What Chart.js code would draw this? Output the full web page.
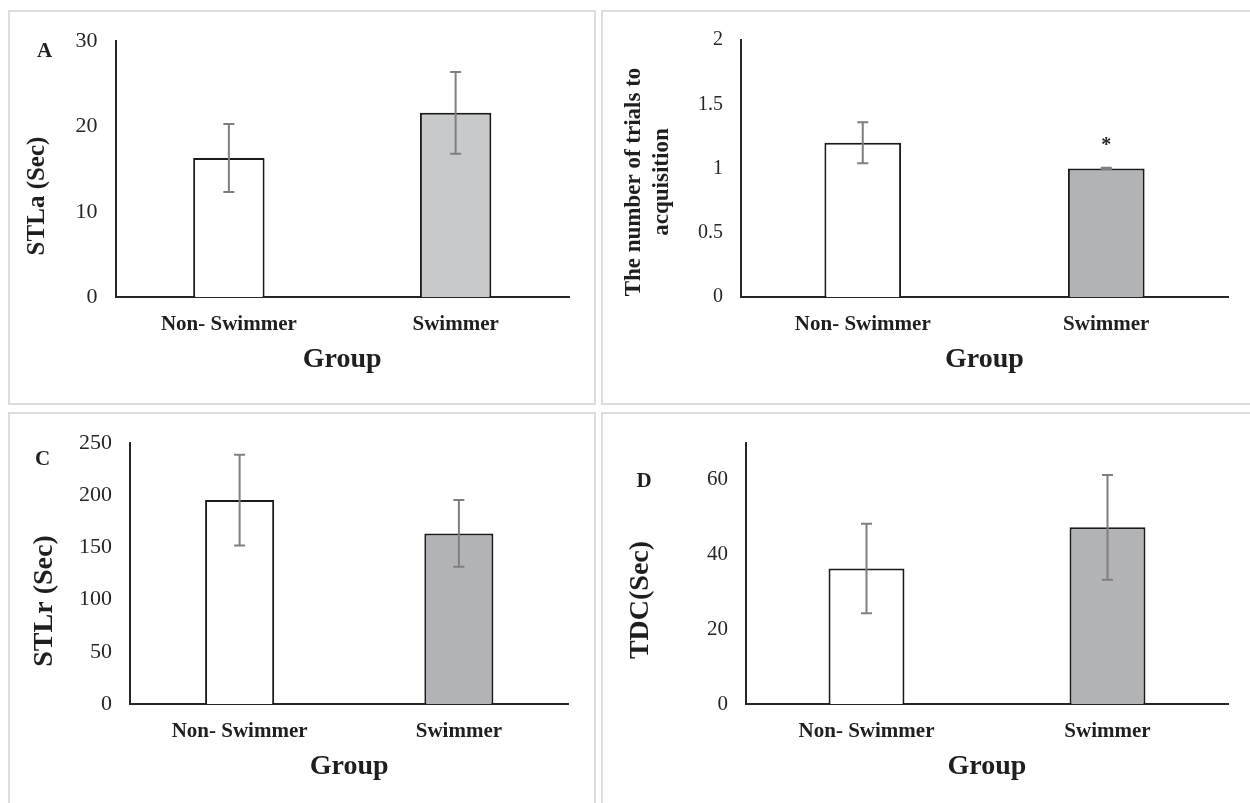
<!DOCTYPE html>
<html>
<head>
<meta charset="utf-8">
<script src="https://cdn.jsdelivr.net/npm/chart.js@4.4.1/dist/chart.umd.min.js"></script>
<style>
  body { margin: 0; background: #fff; width: 1250px; height: 803px; overflow: hidden; position: relative; }
  .panel { position: absolute; box-sizing: border-box; border: 2px solid #dcdcdc; }
  canvas { position: absolute; }
</style>
</head>
<body>
<div class="panel" style="left:8px;top:10px;width:588px;height:395px"></div>
<div class="panel" style="left:601px;top:10px;width:670px;height:395px"></div>
<div class="panel" style="left:8px;top:412px;width:588px;height:410px"></div>
<div class="panel" style="left:601px;top:412px;width:670px;height:410px"></div>
<canvas id="chartA"></canvas>
<canvas id="chartB"></canvas>
<canvas id="chartC"></canvas>
<canvas id="chartD"></canvas>
<script>
const groups = ["Non- Swimmer", "Swimmer"];

// A: STLa (Sec)
const stlaMeans = [16.3, 21.6];
const stlaErrors = [4.0, 4.8];

// B: trials to acquisition
const trialsMeans = [1.2, 1.0];
const trialsErrors = [0.16, 0.006];
const trialsMarks = ["", "*"];

// C: STLr (Sec)
const stlrMeans = [195.5, 163.5];
const stlrErrors = [43.5, 32];

// D: TDC (Sec)
const tdcMeans = [36.3, 47.3];
const tdcErrors = [12, 14];

const serif = '"Liberation Serif", "Times New Roman", serif';
Chart.defaults.font.family = serif;
Chart.defaults.color = "#1f1f1f";

// error bars, rotated y titles, panel letters and significance marks
const extras = {
  id: "extras",
  afterDatasetsDraw(chart, args, opts) {
    const ctx = chart.ctx;
    const xs = chart.scales.x;
    const ys = chart.scales.y;
    const ds = chart.data.datasets[0];
    ctx.save();
    ctx.strokeStyle = "#7f7f7f";
    ctx.lineWidth = 2;
    ds.data.forEach((m, i) => {
      const e = ds.errors[i];
      const cx = xs.getPixelForValue(i);
      const top = ys.getPixelForValue(m + e);
      const bot = ys.getPixelForValue(m - e);
      ctx.beginPath();
      ctx.moveTo(cx, top);
      ctx.lineTo(cx, bot);
      ctx.moveTo(cx - 5.5, top);
      ctx.lineTo(cx + 5.5, top);
      ctx.moveTo(cx - 5.5, bot);
      ctx.lineTo(cx + 5.5, bot);
      ctx.stroke();
    });

    ctx.fillStyle = "#1f1f1f";
    ctx.textAlign = "center";
    ctx.textBaseline = "middle";

    if (ds.marks) {
      ctx.font = "bold 20px " + serif;
      ds.data.forEach((m, i) => {
        if (!ds.marks[i]) return;
        const cx = xs.getPixelForValue(i);
        ctx.fillText(ds.marks[i], cx, ys.getPixelForValue(m + ds.errors[i]) - 22);
      });
    }

    if (opts.letter) {
      ctx.font = "bold 21px " + serif;
      ctx.fillText(opts.letter, opts.letterPos[0], opts.letterPos[1]);
    }

    const lines = [].concat(opts.yTitle);
    ctx.font = "bold " + opts.yTitleSize + "px " + serif;
    ctx.translate(opts.yTitlePos[0], opts.yTitlePos[1]);
    ctx.rotate(-Math.PI / 2);
    const lh = opts.yTitleSize * 1.18;
    lines.forEach((t, k) => {
      ctx.fillText(t, 0, (k - (lines.length - 1) / 2) * lh);
    });
    ctx.restore();
  }
};

function makePanel(id, p) {
  const [cl, ct, cw, ch] = p.canvas;
  const el = document.getElementById(id);
  el.width = cw;
  el.height = ch;
  el.style.left = cl + "px";
  el.style.top = ct + "px";
  const [al, at, ar, ab] = p.area;
  const xHeight = 80;

  new Chart(el, {
    type: "bar",
    data: {
      labels: groups,
      datasets: [
        {
          data: p.means,
          errors: p.errors,
          marks: p.marks,
          backgroundColor: ["#ffffff", p.fill],
          borderColor: "#1a1a1a",
          borderWidth: 2,
          barPercentage: 0.315,
          categoryPercentage: 1,
        },
      ],
    },
    options: {
      responsive: false,
      animation: false,
      events: [],
      layout: {
        padding: { left: 0, top: at - ct, right: cl + cw - ar, bottom: ct + ch - ab - xHeight },
      },
      plugins: {
        legend: { display: false },
        tooltip: { enabled: false },
        extras: {
          yTitle: p.yTitle,
          yTitleSize: p.yTitleSize,
          yTitlePos: [p.yTitlePos[0] - cl, p.yTitlePos[1] - ct],
          letter: p.letter,
          letterPos: p.letterPos ? [p.letterPos[0] - cl, p.letterPos[1] - ct] : null,
        },
      },
      scales: {
        x: {
          grid: { display: false, drawTicks: false },
          border: { display: true, color: "#262626", width: 2 },
          ticks: {
            padding: 15,
            maxRotation: 0,
            autoSkip: false,
            color: "#1f1f1f",
            font: { size: 21, weight: "bold" },
          },
          title: {
            display: true,
            text: "Group",
            color: "#1f1f1f",
            padding: 0,
            font: { size: 28, weight: "bold" },
          },
          afterFit: (s) => { s.height = xHeight; },
        },
        y: {
          min: 0,
          max: p.max,
          grid: { display: false, drawTicks: false },
          border: { display: true, color: "#262626", width: 2 },
          ticks: {
            stepSize: p.step,
            padding: 18,
            color: "#262626",
            font: { size: p.tickSize },
            callback: (v) => String(v),
          },
          // keep only the round steps (panel D stops its labels at 60)
          afterBuildTicks: (s) => {
            s.ticks = s.ticks.filter((t) => Math.abs(t.value / p.step - Math.round(t.value / p.step)) < 1e-6);
          },
          afterFit: (s) => { s.width = al - cl; },
        },
      },
    },
    plugins: [extras],
  });
}

makePanel("chartA", {
  canvas: [8, 10, 588, 395],
  area: [115.5, 38, 569, 297],
  means: stlaMeans,
  errors: stlaErrors,
  max: 30,
  step: 10,
  tickSize: 22,
  fill: "#c8c9cb",
  yTitle: "STLa (Sec)",
  yTitleSize: 25,
  yTitlePos: [38, 196],
  letter: "A",
  letterPos: [44.5, 52],
});

makePanel("chartB", {
  canvas: [601, 10, 649, 395],
  area: [741, 38, 1228, 297],
  means: trialsMeans,
  errors: trialsErrors,
  marks: trialsMarks,
  max: 2,
  step: 0.5,
  tickSize: 20,
  fill: "#b2b3b6",
  yTitle: ["The number of trials to", "acquisition"],
  yTitleSize: 23,
  yTitlePos: [648, 182],
});

makePanel("chartC", {
  canvas: [8, 412, 588, 391],
  area: [130, 441, 568.5, 704],
  means: stlrMeans,
  errors: stlrErrors,
  max: 250,
  step: 50,
  tickSize: 22,
  fill: "#b2b3b6",
  yTitle: "STLr (Sec)",
  yTitleSize: 28,
  yTitlePos: [45, 601],
  letter: "C",
  letterPos: [42.5, 460],
});

makePanel("chartD", {
  canvas: [601, 412, 649, 391],
  area: [746, 441, 1228, 704],
  means: tdcMeans,
  errors: tdcErrors,
  max: 70,
  step: 20,
  tickSize: 21,
  fill: "#b2b3b6",
  yTitle: "TDC(Sec)",
  yTitleSize: 28,
  yTitlePos: [641, 600],
  letter: "D",
  letterPos: [644, 482],
});
</script>
</body>
</html>
